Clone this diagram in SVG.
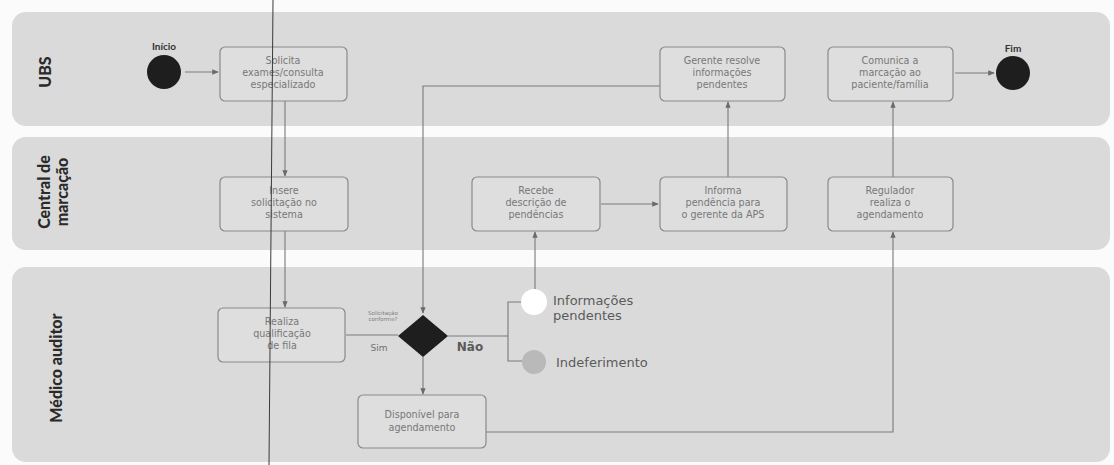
<svg xmlns="http://www.w3.org/2000/svg" width="1114" height="465" viewBox="0 0 1114 465">
<style>
.lane{fill:#dadada;}
.lanelbl{font-family:"Lato","DejaVu Sans",sans-serif;font-weight:900;font-size:16px;fill:#2a2a2a;text-anchor:middle;}
.box{fill:#dedede;stroke:#8a8a8a;stroke-width:1.2;}
.t{font-family:"DejaVu Sans",sans-serif;font-size:9.6px;fill:#787878;text-anchor:middle;}
.c{fill:none;stroke:#7a7a7a;stroke-width:1.1;}
.cap{font-family:"Lato","DejaVu Sans",sans-serif;font-weight:bold;font-size:10px;fill:#333;text-anchor:middle;}
.big{font-family:"DejaVu Sans",sans-serif;font-size:13px;fill:#5a5a5a;}
</style>
<defs>
<marker id="ah" viewBox="0 0 8 8" refX="7" refY="4" markerWidth="6" markerHeight="6" orient="auto">
<path d="M0,0.8 L8,4 L0,7.2 Z" fill="#6a6a6a"/>
</marker>
</defs>
<rect width="1114" height="465" fill="#fbfbfb"/>
<g id="lanes">
<rect class="lane" x="12" y="12" width="1098" height="114" rx="14"/>
<rect class="lane" x="12" y="137" width="1098" height="113" rx="14"/>
<rect class="lane" x="12" y="267" width="1098" height="195" rx="14"/>
<text class="lanelbl" transform="translate(51,72) rotate(-90)">UBS</text>
<text class="lanelbl" transform="translate(50,192) rotate(-90)">Central de</text>
<text class="lanelbl" transform="translate(68,192) rotate(-90)">marcação</text>
<text class="lanelbl" transform="translate(62,368) rotate(-90)">Médico auditor</text>
</g>
<g id="connectors">
<line class="c" x1="185" y1="72" x2="218" y2="72" marker-end="url(#ah)"/>
<line class="c" x1="285" y1="101" x2="285" y2="176" marker-end="url(#ah)"/>
<line class="c" x1="285" y1="231" x2="285" y2="307" marker-end="url(#ah)"/>
<polyline class="c" points="346,335 398,335"/>
<polyline class="c" points="448,336 508,336"/>
<polyline class="c" points="522,302 508,302 508,361 522,361"/>
<line class="c" x1="535" y1="289" x2="535" y2="232" marker-end="url(#ah)"/>
<line class="c" x1="423" y1="357" x2="423" y2="394" marker-end="url(#ah)"/>
<polyline class="c" points="660,86 423,86 423,313" marker-end="url(#ah)"/>
<line class="c" x1="601" y1="204" x2="658" y2="204" marker-end="url(#ah)"/>
<line class="c" x1="728" y1="177" x2="728" y2="102" marker-end="url(#ah)"/>
<polyline class="c" points="486,432 893,432 893,232" marker-end="url(#ah)"/>
<line class="c" x1="893" y1="177" x2="893" y2="102" marker-end="url(#ah)"/>
<line class="c" x1="955" y1="73" x2="994" y2="73" marker-end="url(#ah)"/>
</g>
<g id="inicio">
<circle cx="164" cy="72" r="17" fill="#1e1e1e"/>
<text class="cap" x="164" y="50">Início</text>
</g>
<g id="solicita">
<rect class="box" x="220" y="47" width="127" height="54" rx="5"/>
<text class="t" x="283" y="64">Solicita</text>
<text class="t" x="283" y="76">exames/consulta</text>
<text class="t" x="283" y="88">especializado</text>
</g>
<g id="insere">
<rect class="box" x="220" y="177" width="128" height="54" rx="5"/>
<text class="t" x="284" y="194">Insere</text>
<text class="t" x="284" y="206">solicitação no</text>
<text class="t" x="284" y="218">sistema</text>
</g>
<g id="realiza">
<rect class="box" x="218" y="308" width="127" height="54" rx="5"/>
<text class="t" x="282" y="325">Realiza</text>
<text class="t" x="282" y="337">qualificação</text>
<text class="t" x="282" y="349">de fila</text>
</g>
<g id="decisao">
<polygon points="398,336 423,315 448,336 423,357" fill="#1e1e1e"/>
<text x="383" y="315" font-family="DejaVu Sans, sans-serif" font-size="5.5" fill="#808080" text-anchor="middle">Solicitação</text>
<text x="383" y="321" font-family="DejaVu Sans, sans-serif" font-size="5.5" fill="#808080" text-anchor="middle">conforme?</text>
<text x="379" y="351" font-family="DejaVu Sans, sans-serif" font-size="9" fill="#707070" text-anchor="middle">Sim</text>
<text x="470" y="351" font-family="DejaVu Sans, sans-serif" font-size="12" font-weight="bold" fill="#5a5a5a" text-anchor="middle">Não</text>
</g>
<g id="informacoes">
<circle cx="534" cy="302" r="13" fill="#ffffff"/>
<text class="big" x="553" y="305">Informações</text>
<text class="big" x="553" y="320">pendentes</text>
</g>
<g id="indeferimento">
<circle cx="534" cy="362" r="12" fill="#b9b9b9"/>
<text class="big" x="556" y="367">Indeferimento</text>
</g>
<g id="disponivel">
<rect class="box" x="358" y="395" width="128" height="53" rx="5"/>
<text class="t" x="422" y="418">Disponível para</text>
<text class="t" x="422" y="431">agendamento</text>
</g>
<g id="recebe">
<rect class="box" x="472" y="177" width="128" height="54" rx="5"/>
<text class="t" x="536" y="194">Recebe</text>
<text class="t" x="536" y="206">descrição de</text>
<text class="t" x="536" y="218">pendências</text>
</g>
<g id="informa">
<rect class="box" x="660" y="177" width="127" height="54" rx="5"/>
<text class="t" x="723" y="194">Informa</text>
<text class="t" x="723" y="206">pendência para</text>
<text class="t" x="723" y="218">o gerente da APS</text>
</g>
<g id="gerente">
<rect class="box" x="660" y="47" width="125" height="54" rx="5"/>
<text class="t" x="722" y="64">Gerente resolve</text>
<text class="t" x="722" y="76">informações</text>
<text class="t" x="722" y="88">pendentes</text>
</g>
<g id="regulador">
<rect class="box" x="828" y="177" width="125" height="54" rx="5"/>
<text class="t" x="890" y="194">Regulador</text>
<text class="t" x="890" y="206">realiza o</text>
<text class="t" x="890" y="218">agendamento</text>
</g>
<g id="comunica">
<rect class="box" x="828" y="47" width="125" height="54" rx="5"/>
<text class="t" x="890" y="64">Comunica a</text>
<text class="t" x="890" y="76">marcação ao</text>
<text class="t" x="890" y="88">paciente/família</text>
</g>
<g id="fim">
<circle cx="1013" cy="73" r="17" fill="#1e1e1e"/>
<text class="cap" x="1013" y="52">Fim</text>
</g>
<line x1="273" y1="0" x2="269" y2="465" stroke="#3a3a3a" stroke-width="1"/>
</svg>
